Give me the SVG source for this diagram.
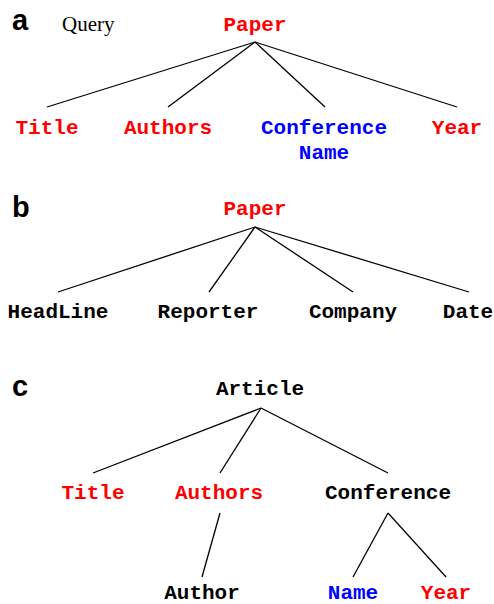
<svg xmlns="http://www.w3.org/2000/svg" width="494" height="604" viewBox="0 0 494 604">
  <style>
    .n { font-family: "Liberation Mono", "Courier New", monospace; font-weight: bold; font-size: 21px; text-anchor: middle; }
    .red { fill: #ff0000; }
    .blue { fill: #0000ff; }
    .black { fill: #000000; }
    .panel { font-family: "Liberation Sans", Arial, sans-serif; font-weight: bold; font-size: 29px; fill: #000; }
    .edge { stroke: #000; stroke-width: 1.3; fill: none; }
  </style>
  <rect width="494" height="604" fill="#ffffff"/>

  <!-- panel labels -->
  <text class="panel" x="12" y="30">a</text>
  <text class="panel" x="12" y="217">b</text>
  <text class="panel" x="12" y="396">c</text>
  <text x="62" y="31" font-family="Liberation Serif, 'Times New Roman', serif" font-size="21" fill="#000">Query</text>

  <!-- connectors -->
  <g id="connectors">
    <!-- tree a -->
    <line class="edge" x1="255" y1="42" x2="47" y2="107"/>
    <line class="edge" x1="255" y1="42" x2="168" y2="107"/>
    <line class="edge" x1="255" y1="42" x2="325" y2="107"/>
    <line class="edge" x1="255" y1="42" x2="457" y2="107"/>
    <!-- tree b -->
    <line class="edge" x1="255" y1="227" x2="58" y2="292"/>
    <line class="edge" x1="255" y1="227" x2="209" y2="292"/>
    <line class="edge" x1="255" y1="227" x2="353" y2="292"/>
    <line class="edge" x1="255" y1="227" x2="469" y2="292"/>
    <!-- tree c -->
    <line class="edge" x1="261" y1="408" x2="93" y2="473"/>
    <line class="edge" x1="261" y1="408" x2="220" y2="473"/>
    <line class="edge" x1="261" y1="408" x2="388" y2="473"/>
    <line class="edge" x1="220" y1="513" x2="202" y2="577"/>
    <line class="edge" x1="388" y1="513" x2="353" y2="577"/>
    <line class="edge" x1="388" y1="513" x2="446" y2="577"/>
  </g>

  <!-- tree a nodes -->
  <g id="a-paper"><text class="n red" x="255" y="31">Paper</text></g>
  <g id="a-title"><text class="n red" x="47" y="134">Title</text></g>
  <g id="a-authors"><text class="n red" x="168" y="134">Authors</text></g>
  <g id="a-conference-name">
    <text class="n blue" x="324" y="134">Conference</text>
    <text class="n blue" x="324" y="159">Name</text>
  </g>
  <g id="a-year"><text class="n red" x="457" y="134">Year</text></g>

  <!-- tree b nodes -->
  <g id="b-paper"><text class="n red" x="255" y="215">Paper</text></g>
  <g id="b-headline"><text class="n black" x="58" y="318">HeadLine</text></g>
  <g id="b-reporter"><text class="n black" x="208" y="318">Reporter</text></g>
  <g id="b-company"><text class="n black" x="353" y="318">Company</text></g>
  <g id="b-date"><text class="n black" x="468" y="318">Date</text></g>

  <!-- tree c nodes -->
  <g id="c-article"><text class="n black" x="260" y="395">Article</text></g>
  <g id="c-title"><text class="n red" x="93" y="499">Title</text></g>
  <g id="c-authors"><text class="n red" x="219" y="499">Authors</text></g>
  <g id="c-conference"><text class="n black" x="388" y="499">Conference</text></g>
  <g id="c-author"><text class="n black" x="202" y="599">Author</text></g>
  <g id="c-name"><text class="n blue" x="353" y="599">Name</text></g>
  <g id="c-year"><text class="n red" x="446" y="599">Year</text></g>
</svg>
